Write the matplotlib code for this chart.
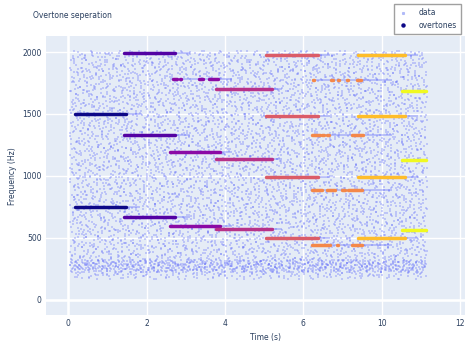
import numpy as np
import matplotlib
matplotlib.use("Agg")
import matplotlib.pyplot as plt
from matplotlib.lines import Line2D

# ---- overtone segments: one entry per detected note ----
note_freqs = [
    [750, 1500],
    [665, 1330, 1995],
    [595, 1190, 1785],
    [567, 1134, 1701],
    [495, 990, 1485, 1980],
    [444, 888, 1332, 1776],
    [495, 990, 1485, 1980],
    [562, 1124, 1686],
]
note_start = [0.17, 1.42, 2.60, 3.77, 5.05, 6.22, 7.40, 8.52]
note_end = [1.47, 2.73, 3.87, 5.20, 6.38, 7.50, 8.60, 9.14]
trail_end = [1.83, 3.11, 4.18, 5.45, 6.68, 8.27, 8.93, 9.14]

# harmonics where the detections are broken into separate runs (note, harmonic)
sparse_runs = {
    (2, 2): [(2.67, 2.78), (2.84, 2.87), (3.34, 3.44), (3.59, 3.82)],
    (5, 0): [(6.22, 6.68), (6.85, 6.88), (7.24, 7.50)],
    (5, 1): [(6.22, 6.48), (6.61, 6.81), (6.99, 7.07), (7.14, 7.50)],
    (5, 2): [(6.22, 6.43), (6.48, 6.52), (6.61, 6.65), (7.24, 7.52)],
    (5, 3): [(6.25, 6.28), (6.70, 6.77), (6.89, 6.92), (7.12, 7.15), (7.37, 7.47)],
}

# ---- background spectral noise: extent and point counts per band ----
noise_time = (0.05, 9.15)
noise_bands = [(170, 2010, 6200), (225, 320, 600)]

# axis ticks
x_tick_pos = [0, 2, 4, 6, 8, 10]
x_tick_labels = ["0", "2", "4", "6", "10", "12"]
y_ticks = [0, 500, 1000, 1500, 2000]

BG = "#e5ecf6"
DATA_C = "#636efa"
TXT = "#2a3f5f"
FS = 5.5

plt.rcParams["font.family"] = ["DejaVu Sans"]


def radical_inverse(n, base):
    """Van der Corput radical inverse of 1..n in the given base."""
    i = np.arange(1, n + 1)
    out = np.zeros(n)
    f = 1.0 / base
    while np.any(i > 0):
        out += f * (i % base)
        i //= base
        f /= base
    return out


fig = plt.figure(figsize=(4.65, 3.44), dpi=100)
ax = fig.add_axes([46 / 465, 1 - 315 / 344, (465 - 46) / 465, (315 - 36) / 344])
ax.set_facecolor(BG)
for s in ax.spines.values():
    s.set_visible(False)

# quasi-uniform fill of each noise band (Halton points, locally spread)
nx, ny = [], []
for lo, hi, n in noise_bands:
    x = noise_time[0] + radical_inverse(n, 2) * (noise_time[1] - noise_time[0])
    y = lo + radical_inverse(n, 3) * (hi - lo)
    x = x + (radical_inverse(n, 5) - 0.5) * 0.14
    y = y + (radical_inverse(n, 7) - 0.5) * 40
    nx.append(np.clip(x, *noise_time))
    ny.append(np.clip(y, lo, hi))
nx = np.concatenate(nx)
ny = np.concatenate(ny)
ax.scatter(nx, ny, s=1.3, marker="s", color=DATA_C, alpha=0.30,
           linewidths=0, zorder=2)

# dense data traces following each harmonic
for k, freqs in enumerate(note_freqs):
    for f in freqs:
        ax.plot([note_start[k], trail_end[k]], [f, f], color=DATA_C,
                alpha=0.40, lw=1.3, solid_capstyle="butt", zorder=3)

# overtone detections, coloured by note order
cmap = plt.get_cmap("plasma")
n_notes = len(note_freqs)
for k, freqs in enumerate(note_freqs):
    col = cmap(k / (n_notes - 1))
    for h, f in enumerate(freqs):
        runs = sparse_runs.get((k, h), [(note_start[k], note_end[k])])
        for a, b in runs:
            ax.plot([a, b], [f, f], color=col, lw=2.5,
                    solid_capstyle="round", zorder=4)

ax.set_xlim(-0.57, 10.13)
ax.set_ylim(-125, 2130)
ax.set_xticks(x_tick_pos)
ax.set_xticklabels(x_tick_labels)
ax.set_yticks(y_ticks)
ax.grid(True, color="white", lw=1.0, zorder=1)
ax.set_axisbelow(True)
ax.axhline(0, color="white", lw=1.8, zorder=1)
ax.axvline(0, color="white", lw=1.8, zorder=1)
ax.tick_params(length=0, labelsize=FS, labelcolor=TXT, pad=3)

ax.set_xlabel("Time (s)", fontsize=FS, color=TXT)
ax.set_ylabel("Frequency (Hz)", fontsize=FS, color=TXT)
ax.xaxis.set_label_coords((265 - 46) / 419, -(333 - 315) / 279)
ax.yaxis.set_label_coords(-(46 - 17) / 419, (315 - 176) / 279)

fig.text(33 / 465, 1 - 15 / 344, "Overtone seperation", fontsize=FS,
         color=TXT, va="center", ha="left")

handles = [
    Line2D([], [], ls="none", marker="s", ms=1.2, color="#b1baf8"),
    Line2D([], [], ls="none", marker="o", ms=2.2, color="#0d0887"),
]
leg = fig.legend(handles, ["data", "overtones"], loc="upper left",
                 bbox_to_anchor=(390 / 465, 1.0), fontsize=FS,
                 frameon=True, fancybox=False, borderpad=0.6,
                 handlelength=1.2, handletextpad=1.4, labelspacing=0.45,
                 labelcolor=TXT)
leg.get_frame().set_edgecolor("#888888")
leg.get_frame().set_linewidth(1.0)

fig.savefig("out.png", dpi=100)
